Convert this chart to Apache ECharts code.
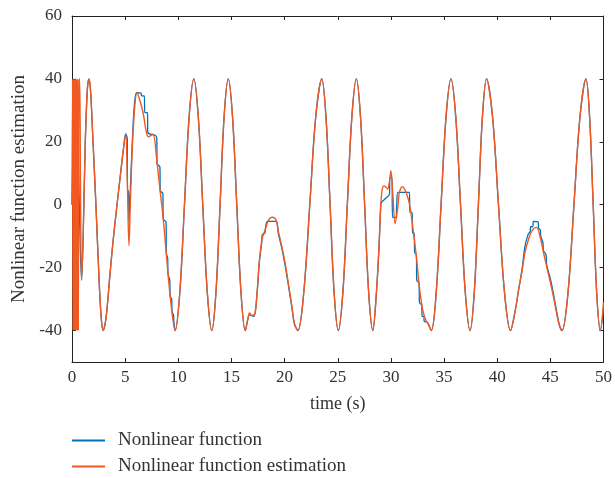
<!DOCTYPE html>
<html>
<head>
<meta charset="utf-8">
<script src="https://cdn.jsdelivr.net/npm/echarts@6/dist/echarts.min.js"></script>
<style>
html,body{margin:0;padding:0;background:#fff;}
#chart{width:615px;height:478px;}
</style>
</head>
<body>
<div id="chart"></div>
<script>
const seriesNames = ['Nonlinear function', 'Nonlinear function estimation'];
const xTicks = [0, 5, 10, 15, 20, 25, 30, 35, 40, 45, 50];
const yTicks = [-40, -20, 0, 20, 40, 60];

// Nonlinear function (blue) [time, value]
const functionData = [
  [0,0],[0.15,25],[0.35,40],[0.55,22],[0.75,-10],[0.9,-24],[1.05,-10],[1.25,20],[1.45,37],[1.6,40],
  [1.75,36],[1.95,22],[2.25,0],[2.55,-24],[2.75,-36],[2.93,-40],[3.2,-36],[3.55,-23],[3.85,-12],[4.17,-2],
  [4.64,12],[4.85,18],[5.05,22.5],[5.2,21],[5.22,4.4],[5.33,4.4],[5.36,-5.5],[5.5,6],[5.7,22],[5.9,33],
  [6.1,35.6],[6.5,35.5],[6.55,34.6],[6.8,34.6],[6.85,29.3],[7.1,29.3],[7.13,23],[7.85,22],[7.98,21],[8.0,13],
  [8.27,12],[8.3,4.5],[8.55,3.5],[8.58,-4.5],[8.85,-5.5],[8.88,-15.5],[9.0,-17],[9.03,-22],[9.2,-24],[9.23,-29],
  [9.38,-30],[9.41,-34],[9.55,-35],[9.58,-37],[9.7,-40],[10.14,-28],[10.58,0],[11.02,28],[11.46,40],[11.88,28],
  [12.3,0],[12.73,-28],[13.15,-40],[13.54,-28],[13.93,0],[14.31,28],[14.7,40],[15.1,28],[15.5,0],[15.9,-28],
  [16.3,-40],[16.57,-36],[16.7,-35],[17.1,-35.5],[17.4,-28.5],[17.63,-18],[17.85,-12],[17.9,-9.5],[18.15,-9],[18.2,-7.5],
  [18.4,-5.3],[19.2,-5.3],[19.4,-9],[19.75,-14],[20.06,-19.5],[20.4,-26.5],[20.7,-33],[20.93,-38],[21.25,-40],[21.8,-28],
  [22.37,0],[22.93,28],[23.5,40],[23.89,28],[24.28,0],[24.66,-28],[25.05,-40],[25.48,-28],[25.9,0],[26.33,28],
  [26.75,40],[27.14,28],[27.53,0],[27.91,-28],[28.3,-40],[28.63,-28.3],[28.88,-13.5],[29.05,0],[29.1,0.7],[29.56,2.2],
  [29.87,3.4],[29.9,8.7],[30.1,8.7],[30.15,-4],[30.45,-4],[30.55,0],[30.65,3.9],[31.75,3.9],[31.78,-2.4],[32.0,-2.4],
  [32.03,-9],[32.2,-9],[32.23,-15],[32.4,-16],[32.43,-24],[32.65,-25],[32.68,-31],[32.9,-32],[32.93,-35.5],[33.1,-35.5],
  [33.13,-37],[33.45,-37.5],[33.8,-40],[34.26,-28],[34.72,0],[35.19,28],[35.65,40],[36.1,28],[36.55,0],[37.0,-28],
  [37.45,-40],[37.84,-28],[38.23,0],[38.61,28],[39.0,40],[39.56,28],[40.12,0],[40.69,-28],[41.25,-40],[41.7,-33.6],
  [42.0,-27.3],[42.34,-20.5],[42.6,-13.5],[42.9,-9.5],[43.1,-8.5],[43.15,-7],[43.35,-7],[43.4,-5.3],[43.85,-5.5],[43.9,-7.5],
  [44.05,-8],[44.1,-10],[44.3,-12],[44.35,-14.5],[44.6,-16],[44.65,-19],[45.0,-23.5],[45.3,-28.5],[45.6,-34],[45.86,-38.4],
  [46.1,-40],[46.66,-28],[47.22,0],[47.79,28],[48.35,40],[48.69,28],[49.03,0],[49.36,-28],[49.7,-40],[50,-33]
];

// Nonlinear function estimation (orange) [time, value]
const estimationData = [
  [0,0],[0.05,40],[0.1,-40],[0.15,40],[0.2,-40],[0.25,40],[0.3,-40],[0.35,40],[0.4,-40],[0.45,40],
  [0.5,-40],[0.55,40],[0.6,-40],[0.65,40],[0.72,40],[0.8,5],[0.9,-24],[1.05,-10],[1.25,20],[1.45,37],
  [1.6,40],[1.75,36],[1.95,22],[2.25,0],[2.55,-24],[2.75,-36],[2.93,-40],[3.2,-36],[3.55,-23],[3.85,-12],
  [4.17,-2],[4.64,12],[4.85,18],[5.05,22.5],[5.2,8],[5.36,-13],[5.5,2],[5.7,20],[5.9,31],[6.1,35.6],
  [6.4,33],[6.7,29],[7.0,23],[7.2,21.6],[7.6,22.4],[7.98,14],[8.29,4.4],[8.6,-5],[8.9,-16.7],[9.2,-28],
  [9.5,-36.8],[9.7,-40],[10.14,-28],[10.58,0],[11.02,28],[11.46,40],[11.88,28],[12.3,0],[12.73,-28],[13.15,-40],
  [13.54,-28],[13.93,0],[14.31,28],[14.7,40],[15.1,28],[15.5,0],[15.9,-28],[16.3,-40],[16.57,-35.8],[16.7,-34.4],
  [16.9,-35.2],[17.2,-34.6],[17.4,-28.3],[17.63,-17.8],[17.88,-10.9],[18.2,-7.7],[18.5,-4.8],[18.85,-4],[19.19,-4.8],[19.4,-8.3],
  [19.75,-13.5],[20.06,-18.8],[20.4,-26],[20.7,-32.6],[20.93,-37.9],[21.25,-40],[21.8,-28],[22.37,0],[22.93,28],[23.5,40],
  [23.89,28],[24.28,0],[24.66,-28],[25.05,-40],[25.48,-28],[25.9,0],[26.33,28],[26.75,40],[27.14,28],[27.53,0],
  [27.91,-28],[28.3,-40],[28.63,-28.3],[28.88,-13.5],[29.05,0],[29.19,5],[29.35,6],[29.56,5.5],[29.7,5],[29.87,7.6],
  [30.0,10.8],[30.18,3.4],[30.4,-6],[30.65,-0.8],[30.8,3.9],[31.1,5.7],[31.43,3.9],[31.75,0.2],[32.06,-7.2],[32.37,-15.7],
  [32.68,-26.2],[33.0,-33.6],[33.3,-36.8],[33.5,-37.9],[33.8,-40],[34.26,-28],[34.72,0],[35.19,28],[35.65,40],[36.1,28],
  [36.55,0],[37.0,-28],[37.45,-40],[37.84,-28],[38.23,0],[38.61,28],[39.0,40],[39.56,28],[40.12,0],[40.69,-28],
  [41.25,-40],[41.7,-33.6],[42.0,-27.3],[42.34,-21],[42.65,-14.6],[42.96,-10.9],[43.27,-8.3],[43.7,-7.2],[44.05,-10.4],[44.35,-15.1],
  [44.67,-19.9],[45.0,-24.7],[45.3,-29.4],[45.6,-34.7],[45.86,-38.4],[46.1,-40],[46.66,-28],[47.22,0],[47.79,28],[48.35,40],
  [48.69,28],[49.03,0],[49.36,-28],[49.7,-40],[50,-31]
];

const FONT = '"Liberation Serif", "DejaVu Serif", serif';
const AXIS_COLOR = '#222';
const TEXT_COLOR = '#333';

const chart = echarts.init(document.getElementById('chart'), null, {renderer: 'canvas'});

const commonAxisLine = {show: true, onZero: false, lineStyle: {color: AXIS_COLOR, width: 1}};

chart.setOption({
  animation: false,
  backgroundColor: '#fff',
  grid: {left: 72, right: 8, top: 16, bottom: 116, containLabel: false},
  legend: {
    orient: 'vertical',
    left: 72,
    top: 431,
    height: 47,
    padding: 0,
    itemWidth: 33,
    itemHeight: 2,
    itemGap: 7,
    icon: 'rect',
    data: seriesNames,
    textStyle: {fontFamily: FONT, fontSize: 19, color: TEXT_COLOR, padding: [0, 0, 0, 8]}
  },
  xAxis: [
    {
      type: 'value', min: xTicks[0], max: xTicks[xTicks.length - 1], interval: 5,
      position: 'bottom',
      name: 'time (s)', nameLocation: 'middle', nameGap: 33,
      nameTextStyle: {fontFamily: FONT, fontSize: 18, color: TEXT_COLOR},
      axisLine: commonAxisLine,
      axisTick: {show: true, inside: true, length: 4, lineStyle: {color: AXIS_COLOR}},
      axisLabel: {fontFamily: FONT, fontSize: 17, color: TEXT_COLOR, margin: 7},
      splitLine: {show: false}
    },
    {
      type: 'value', min: xTicks[0], max: xTicks[xTicks.length - 1], interval: 5,
      position: 'top',
      axisLine: commonAxisLine,
      axisTick: {show: true, inside: true, length: 4, lineStyle: {color: AXIS_COLOR}},
      axisLabel: {show: false},
      splitLine: {show: false}
    }
  ],
  yAxis: [
    {
      type: 'value', min: -50, max: 60, interval: 10,
      position: 'left',
      name: 'Nonlinear function estimation', nameLocation: 'middle', nameGap: 41,
      nameTextStyle: {fontFamily: FONT, fontSize: 19, color: TEXT_COLOR},
      axisLine: commonAxisLine,
      axisTick: {show: true, inside: true, length: 4, lineStyle: {color: AXIS_COLOR}, customValues: yTicks},
      axisLabel: {fontFamily: FONT, fontSize: 17, color: TEXT_COLOR, margin: 10, customValues: yTicks},
      splitLine: {show: false}
    },
    {
      type: 'value', min: -50, max: 60, interval: 10,
      position: 'right',
      axisLine: commonAxisLine,
      axisTick: {show: true, inside: true, length: 4, lineStyle: {color: AXIS_COLOR}, customValues: yTicks},
      axisLabel: {show: false},
      splitLine: {show: false}
    }
  ],
  series: [
    {
      name: seriesNames[0], type: 'line', xAxisIndex: 0, yAxisIndex: 0,
      data: functionData, showSymbol: false, symbol: 'none', smooth: 0.35,
      lineStyle: {color: '#0072BD', width: 1.3},
      itemStyle: {color: '#0072BD'}
    },
    {
      name: seriesNames[1], type: 'line', xAxisIndex: 0, yAxisIndex: 0,
      data: estimationData, showSymbol: false, symbol: 'none', smooth: 0.35,
      lineStyle: {color: '#F05A22', width: 1.4},
      itemStyle: {color: '#F05A22'}
    }
  ]
});
</script>
</body>
</html>
